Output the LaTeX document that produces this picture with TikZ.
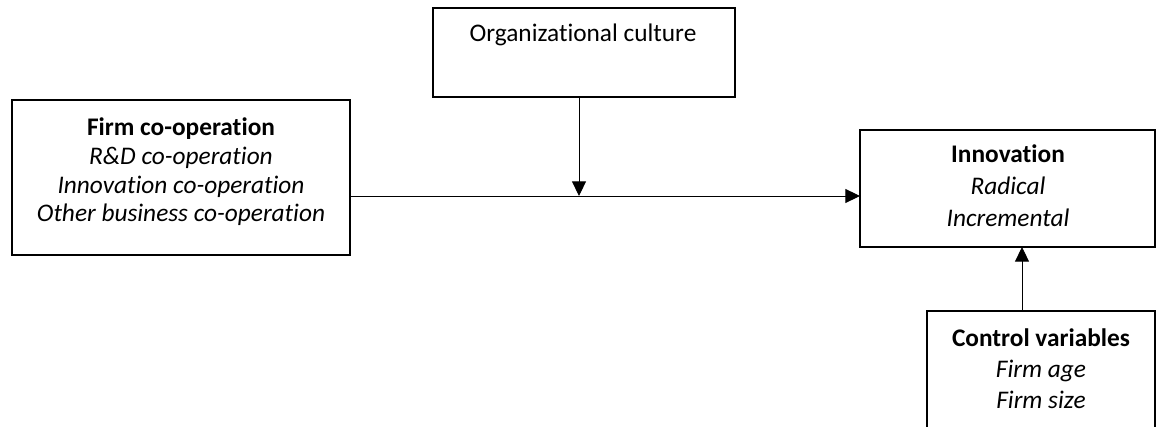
\documentclass[tikz,border=0pt]{standalone}
\usepackage{fontspec}
\setmainfont{Carlito}[Ligatures=NoCommon]
\usetikzlibrary{arrows.meta,fit}
\begin{document}
\begin{tikzpicture}[x=0.75pt,y=-0.75pt,
  box/.style={draw, line width=1.6pt, inner sep=0pt, outer sep=0pt},
  txt/.style={align=center, inner sep=0pt, anchor=base},
  conn/.style={line width=0.7pt, -{Triangle[length=11pt,width=10.5pt]}}]
\useasboundingbox (0,0) rectangle (1156,427);
\clip (0,0) rectangle (1156,427);
\node[box, fit={(12,100) (350,255)}] (firm) {};
\node[box, fit={(433,8) (735,97)}] (org) {};
\node[box, fit={(860,130) (1155,247)}] (innov) {};
\node[box, fit={(927,311) (1155,445)}] (ctrl) {};
\coordinate (mid) at (579,196);
\coordinate (cx) at (1022,280);
\node[txt, font=\fontsize{19}{21.5}\selectfont] (firmtxt) at (181,222)
  {\textbf{Firm co-operation}\\\textit{R\&D co-operation}\\\textit{Innovation co-operation}\\\textit{Other business co-operation}};
\node[txt, font=\fontsize{19}{21.5}\selectfont] (orgtxt) at (583,42) {Organizational culture};
\node[txt, font=\fontsize{19}{24}\selectfont] (innovtxt) at (1008,227)
  {\textbf{Innovation}\\\textit{Radical}\\\textit{Incremental}};
\node[txt, font=\fontsize{19}{23}\selectfont] (ctrltxt) at (1041,408)
  {\textbf{Control variables}\\\textit{Firm age}\\\textit{Firm size}};
\draw[conn] (firm.east |- mid) -- (innov.west |- mid);
\draw[conn] (org.south -| mid) -- (mid);
\draw[conn] (ctrl.north -| cx) -- (innov.south -| cx);
\end{tikzpicture}
\end{document}
